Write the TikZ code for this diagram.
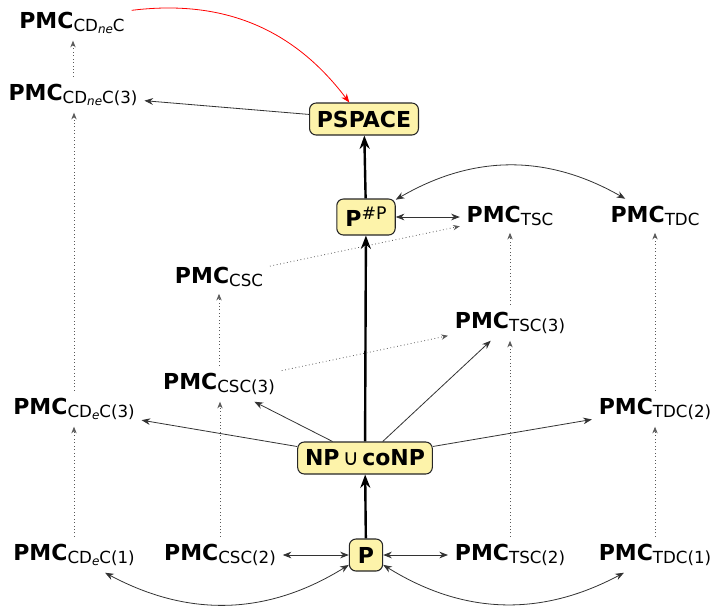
\documentclass[tikz,border=0pt]{standalone}
\usepackage{fontspec}
\setmainfont{DejaVu Sans}
\usetikzlibrary{arrows.meta}
\definecolor{boxfill}{RGB}{253,243,170}
\newcommand{\pmcs}[1]{\textbf{PMC}\raisebox{-2.7pt}{\fontsize{12.5}{13}\selectfont #1}}
\newcommand{\ssub}[1]{\raisebox{-1.5pt}{\fontsize{9}{9}\selectfont\itshape #1}}
\begin{document}
\begin{tikzpicture}[x=0.75pt,y=-0.75pt,
  every node/.style={font=\fontsize{16.5}{19}\selectfont},
  lab/.style={anchor=base, inner sep=5pt},
  cls/.style={draw=black!85, fill=boxfill, rounded corners=5pt, line width=0.8pt, inner xsep=5.5pt, minimum height=24pt, font=\fontsize{16.5}{19}\selectfont\bfseries},
  thinarr/.style={-{Stealth[length=6.5pt,width=5pt]}, black!80, line width=0.6pt},
  botharr/.style={{Stealth[length=6.5pt,width=5pt]}-{Stealth[length=6.5pt,width=5pt]}, black!80, line width=0.6pt},
  thickarr/.style={-{Stealth[length=10pt,width=7.5pt]}, black, line width=1.8pt},
  dotarr/.style={-{Stealth[length=5pt,width=4pt]}, black!65, dotted, line width=0.6pt},
  redarr/.style={-{Stealth[length=6.5pt,width=5pt]}, red, line width=0.6pt},
]
\useasboundingbox (0,0) rectangle (717,608);

\node[lab] (cdne) at (72,28) {\pmcs{CD\ssub{ne}C}};
\node[lab] (cdne3) at (73,100) {\pmcs{CD\ssub{ne}C(3)}};
\node[cls] (ps) at (364,119) {PSPACE};
\node[cls, inner xsep=6.5pt, minimum height=27pt] (sp) at (366,217) {P\raisebox{5.5pt}{\fontsize{13}{13}\selectfont\mdseries\#P}};
\node[lab] (tsc) at (510,222) {\pmcs{TSC}};
\node[lab] (tdc) at (655,222) {\pmcs{TDC}};
\node[lab] (csc) at (219,283) {\pmcs{CSC}};
\node[lab] (tsc3) at (510,328) {\pmcs{TSC(3)}};
\node[lab] (csc3) at (219,389) {\pmcs{CSC(3)}};
\node[lab] (cde3) at (74,414) {\pmcs{CD\ssub{e}C(3)}};
\node[lab] (tdc2) at (655,414) {\pmcs{TDC(2)}};
\node[cls] (np) at (365,458) {NP\hspace{2.5pt}{\mdseries ∪}\hspace{2.5pt}coNP};
\node[cls, minimum width=25pt] (p) at (366,555) {P};
\node[lab] (cde1) at (74,560) {\pmcs{CD\ssub{e}C(1)}};
\node[lab] (csc2) at (220,560) {\pmcs{CSC(2)}};
\node[lab] (tsc2) at (510,560) {\pmcs{TSC(2)}};
\node[lab] (tdc1) at (655,560) {\pmcs{TDC(1)}};

\draw[redarr] (cdne) to[bend left=30] (ps);
\draw[thinarr] (ps) -- (cdne3);
\draw[thickarr] (sp) -- (ps);
\draw[thickarr] (np) -- (sp);
\draw[thickarr] (p) -- (np);
\draw[botharr] (sp.east) -- (sp.east -| tsc.west);
\draw[botharr] (sp) to[bend left=30] (tdc);
\draw[dotarr] (csc) -- (tsc);
\draw[dotarr] (csc3) -- (tsc3);
\draw[thinarr] (np) -- (tsc3);
\draw[thinarr] (np) -- (csc3);
\draw[thinarr] (np) -- (cde3);
\draw[thinarr] (np) -- (tdc2);
\draw[botharr] (p.west) -- (p.west -| csc2.east);
\draw[botharr] (p.east) -- (p.east -| tsc2.west);
\draw[botharr] (p) to[bend left=30] (cde1);
\draw[botharr] (p) to[bend right=30] (tdc1);
\draw[dotarr] (cde1.north) -- (cde1.north |- cde3.south);
\draw[dotarr] (cde3.north) -- (cde3.north |- cdne3.south);
\draw[dotarr] (cdne3.north) -- (cdne3.north |- cdne.south);
\draw[dotarr] (csc2.north) -- (csc2.north |- csc3.south);
\draw[dotarr] (csc3.north) -- (csc3.north |- csc.south);
\draw[dotarr] (tsc2.north) -- (tsc2.north |- tsc3.south);
\draw[dotarr] (tsc3.north) -- (tsc3.north |- tsc.south);
\draw[dotarr] (tdc1.north) -- (tdc1.north |- tdc2.south);
\draw[dotarr] (tdc2.north) -- (tdc2.north |- tdc.south);
\end{tikzpicture}
\end{document}
